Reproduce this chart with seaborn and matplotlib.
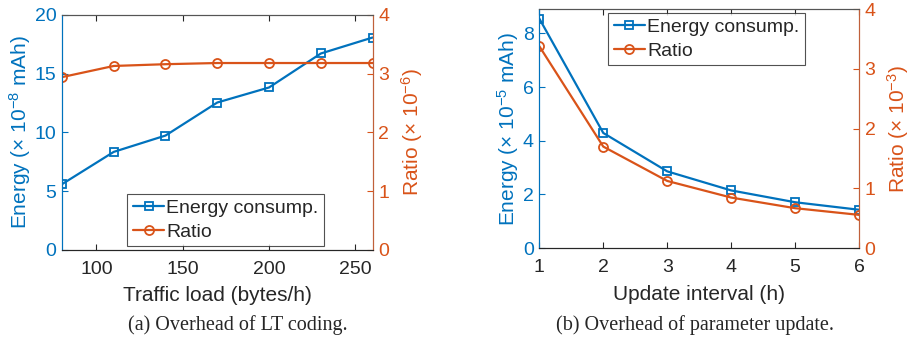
import pandas as pd
import seaborn as sns
from matplotlib import pyplot as plt

# (a) overhead of LT coding
traffic_load = [80, 110, 140, 170, 200, 230, 260]
energy_a = [5.59, 8.34, 9.73, 12.54, 13.82, 16.71, 18.07]
ratio_a = [2.94, 3.13, 3.16, 3.18, 3.18, 3.18, 3.18]

# (b) overhead of parameter update
update_interval = [1, 2, 3, 4, 5, 6]
energy_b = [8.55, 4.29, 2.86, 2.15, 1.71, 1.43]
ratio_b = [3.38, 1.70, 1.125, 0.847, 0.669, 0.557]

blue = "#0072BD"
orange = "#D95319"

sns.set_style("ticks")
plt.rcParams["font.family"] = ["Liberation Sans", "DejaVu Sans"]
plt.rcParams["mathtext.fontset"] = "custom"
plt.rcParams["mathtext.rm"] = "Liberation Sans"
plt.rcParams["mathtext.it"] = "Liberation Sans:italic"

fig = plt.figure(figsize=(9.11, 3.53), dpi=100)
ax_a = fig.add_axes([0.068, 0.292, 0.341, 0.666])
ax_b = fig.add_axes([0.592, 0.297, 0.351, 0.677])

panels = [
    (ax_a, traffic_load, energy_a, ratio_a, "Traffic load (bytes/h)",
     r"Energy ($\times$ 10$^{-8}$ mAh)", r"Ratio ($\times$ 10$^{-6}$)", (80, 260), 20, [0, 5, 10, 15, 20],
     [100, 150, 200, 250], dict(loc="lower left", bbox_to_anchor=(0.21, 0.015))),
    (ax_b, update_interval, energy_b, ratio_b, "Update interval (h)",
     r"Energy ($\times$ 10$^{-5}$ mAh)", r"Ratio ($\times$ 10$^{-3}$)", (1, 6), 8.9, [0, 2, 4, 6, 8],
     [1, 2, 3, 4, 5, 6], dict(loc="upper left", bbox_to_anchor=(0.215, 0.985))),
]

for ax, xs, en, ra, xlab, ylab, rlab, xlim, ytop, yticks, xticks, leg_kw in panels:
    ax2 = ax.twinx()
    df = pd.DataFrame({"x": xs, "energy": en, "ratio": ra})
    sns.lineplot(data=df, x="x", y="energy", ax=ax, color=blue, lw=1.6, marker="s",
                 ms=5.5, markerfacecolor="none", markeredgecolor=blue, markeredgewidth=1.3,
                 label="Energy consump.", legend=False)
    sns.lineplot(data=df, x="x", y="ratio", ax=ax2, color=orange, lw=1.6, marker="o",
                 ms=6.5, markerfacecolor="none", markeredgecolor=orange, markeredgewidth=1.3,
                 label="Ratio", legend=False)
    ax.set_xlim(*xlim)
    ax.set_ylim(0, ytop)
    ax2.set_ylim(0, 4)
    ax.set_xticks(xticks)
    ax.set_yticks(yticks)
    ax2.set_yticks([0, 1, 2, 3, 4])
    ax.set_xlabel(xlab, fontsize=15, color="#262626", labelpad=6)
    ax.set_ylabel(ylab, fontsize=15, color=blue, labelpad=1)
    ax2.set_ylabel(rlab, fontsize=15, color=orange, labelpad=7)
    ax.tick_params(axis="x", direction="in", top=True, labelsize=14, colors="#262626", length=4, pad=8)
    ax.tick_params(axis="y", direction="in", labelsize=14, colors=blue, length=4, pad=4)
    ax2.tick_params(axis="y", direction="in", labelsize=14, colors=orange, length=4, pad=4)
    for a in (ax, ax2):
        for s in a.spines.values():
            s.set_linewidth(0.8)
        a.spines["top"].set_color("#555555")
        a.spines["bottom"].set_color("#262626")
        a.spines["left"].set_color(blue)
        a.spines["right"].set_color("#C0603A")
    h1, l1 = ax.get_legend_handles_labels()
    h2, l2 = ax2.get_legend_handles_labels()
    leg = ax2.legend(h1 + h2, l1 + l2, fontsize=14, frameon=True, fancybox=False,
                     edgecolor="#262626", handlelength=1.6, handletextpad=0.1,
                     borderpad=0.3, labelspacing=0.3, borderaxespad=0, **leg_kw)
    leg.get_frame().set_linewidth(0.8)

fig.text(0.261, 0.078, "(a) Overhead of LT coding.", ha="center", va="center",
         fontsize=14.5, family=["Liberation Serif", "DejaVu Serif"])
fig.text(0.763, 0.078, "(b) Overhead of parameter update.", ha="center", va="center",
         fontsize=14.5, family=["Liberation Serif", "DejaVu Serif"])

plt.savefig("out.png", dpi=100)
